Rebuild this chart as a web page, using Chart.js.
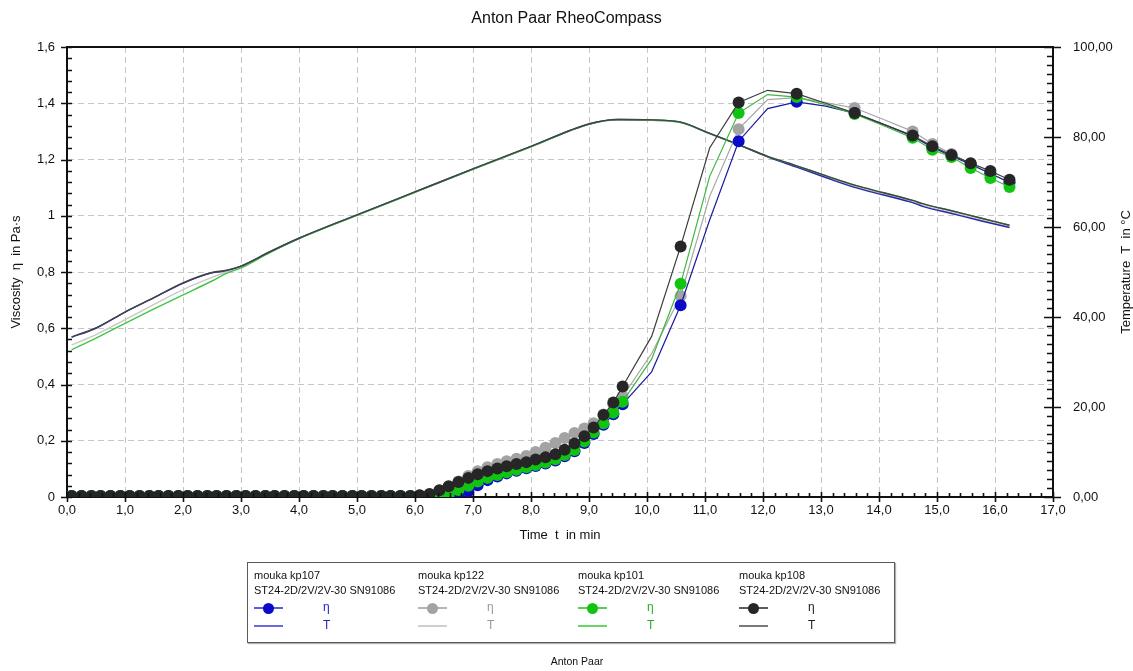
<!DOCTYPE html>
<html><head><meta charset="utf-8">
<script src="https://cdn.jsdelivr.net/npm/chart.js@4.4.1/dist/chart.umd.min.js"></script>
<style>
html,body{margin:0;padding:0;background:#fff;}
#wrap{position:relative;width:1133px;height:671px;overflow:hidden;font-family:"Liberation Sans",Arial,sans-serif;}
#chart{position:absolute;left:0;top:0;}
#legend{position:absolute;left:247px;top:562px;width:646px;height:79px;border:1px solid #5a5a5a;box-shadow:1px 1px 1px #b0b0b0;background:#fff;}
.col{position:absolute;top:0;width:165px;height:79px;font-size:11px;color:#111;}
.txt{position:absolute;left:0;white-space:nowrap;line-height:14px;}
.sym{position:absolute;height:2px;}
.dot{position:absolute;width:11px;height:11px;border-radius:50%;}
.lab{position:absolute;line-height:14px;font-size:12px;}
#footer{position:absolute;left:477px;width:200px;top:655px;text-align:center;font-family:"Liberation Sans Narrow","Liberation Sans",Arial,sans-serif;font-size:10.5px;color:#111;}
</style>
</head>
<body>
<div id="wrap">
<canvas id="chart" width="1133" height="671"></canvas>
<div id="legend"></div>
<div id="footer">Anton Paar</div>
</div>
<script>
// ---------- DATA ----------
const chartTitle = 'Anton Paar RheoCompass';
const xTitle = 'Time  t  in min';
const yTitle = 'Viscosity  η  in Pa·s';
const y2Title = 'Temperature  T  in °C';

const xTicks = [0,1,2,3,4,5,6,7,8,9,10,11,12,13,14,15,16,17];
const yTicks = [0,0.2,0.4,0.6,0.8,1.0,1.2,1.4,1.6];
const y2Ticks = [0,20,40,60,80,100];

const seriesNames = ['mouka kp107','mouka kp122','mouka kp101','mouka kp108'];
const seriesInfo = 'ST24-2D/2V/2V-30 SN91086';

// time points of the viscosity measurement (min)
const etaTimes = [0.08,0.25,0.42,0.58,0.75,0.92,1.08,1.25,1.42,1.58,1.75,1.92,2.08,2.25,2.42,2.58,2.75,2.92,3.08,3.25,3.42,3.58,3.75,3.92,4.08,4.25,4.42,4.58,4.75,4.92,5.08,5.25,5.42,5.58,5.75,5.92,6.08,6.25,6.42,6.58,6.75,6.92,7.08,7.25,7.42,7.58,7.75,7.92,8.08,8.25,8.42,8.58,8.75,8.92,9.08,9.25,9.42,9.58,10.08,10.58,11.08,11.58,12.08,12.58,13.08,13.58,14.08,14.58,14.92,15.25,15.58,15.92,16.25];
// measurement points drawn without a symbol
const lineOnlyTimes = [10.08,11.08,12.08,13.08,14.08];

// viscosity (Pa·s)
const etaKp107 = [0.004,0.004,0.004,0.004,0.004,0.004,0.004,0.004,0.004,0.004,0.004,0.004,0.004,0.004,0.004,0.004,0.004,0.004,0.004,0.004,0.004,0.004,0.004,0.004,0.004,0.004,0.004,0.004,0.004,0.004,0.004,0.004,0.004,0.004,0.004,
  0.004,0.004,0.004,0.004,0.004,0.006,0.020,0.042,0.060,0.073,0.084,0.093,0.102,0.110,0.119,0.130,0.145,0.163,0.192,0.224,0.257,0.294,0.330,
  0.445,0.682,0.985,1.265,1.381,1.405,1.390,1.365,1.325,1.283,1.243,1.213,1.182,1.150,1.118];
const etaKp122 = [0.004,0.004,0.004,0.004,0.004,0.004,0.004,0.004,0.004,0.004,0.004,0.004,0.004,0.004,0.004,0.004,0.004,0.004,0.004,0.004,0.004,0.004,0.004,0.004,0.004,0.004,0.004,0.004,0.004,0.004,0.004,0.004,0.004,0.004,0.004,
  0.004,0.005,0.009,0.020,0.036,0.055,0.075,0.092,0.106,0.117,0.127,0.136,0.146,0.160,0.175,0.192,0.210,0.228,0.244,0.262,0.293,0.330,0.357,
  0.510,0.715,1.069,1.308,1.413,1.420,1.402,1.383,1.342,1.300,1.255,1.220,1.185,1.150,1.118];
const etaKp101 = [0.004,0.004,0.004,0.004,0.004,0.004,0.004,0.004,0.004,0.004,0.004,0.004,0.004,0.004,0.004,0.004,0.004,0.004,0.004,0.004,0.004,0.004,0.004,0.004,0.004,0.004,0.004,0.004,0.004,0.004,0.004,0.004,0.004,0.004,0.004,
  0.004,0.004,0.004,0.005,0.009,0.025,0.040,0.055,0.068,0.078,0.088,0.097,0.106,0.114,0.123,0.134,0.149,0.167,0.197,0.229,0.262,0.300,0.339,
  0.490,0.758,1.140,1.365,1.431,1.422,1.395,1.362,1.320,1.277,1.235,1.209,1.170,1.134,1.102];
const etaKp108 = [0.004,0.004,0.004,0.004,0.004,0.004,0.004,0.004,0.004,0.004,0.004,0.004,0.004,0.004,0.004,0.004,0.004,0.004,0.004,0.004,0.004,0.004,0.004,0.004,0.004,0.004,0.004,0.004,0.004,0.004,0.004,0.004,0.004,0.004,0.004,
  0.004,0.006,0.011,0.024,0.038,0.053,0.068,0.081,0.092,0.101,0.109,0.117,0.124,0.133,0.141,0.152,0.168,0.190,0.216,0.247,0.292,0.336,0.393,
  0.571,0.891,1.241,1.403,1.446,1.434,1.400,1.365,1.325,1.285,1.247,1.216,1.187,1.159,1.128];

// temperature (°C)
const tempTimes = [0.08,0.5,1.0,1.5,2.0,2.5,2.75,3.0,3.5,4.0,5.0,6.0,7.0,8.0,9.0,9.5,10.08,10.58,11.08,11.58,12.08,12.58,13.08,13.58,14.08,14.58,14.75,15.25,15.75,16.25];
const tempKp107 = [35.5,37.5,41.1,44.3,47.5,49.8,50.3,51.3,54.5,57.5,62.7,67.8,72.9,77.9,82.9,83.9,83.8,83.3,80.8,78.3,75.6,73.3,71.0,68.8,67.1,65.4,64.6,63.0,61.4,59.9];
const tempKp122 = [33.8,36.1,39.4,42.8,46.1,48.8,50.0,51.1,54.4,57.4,62.6,67.7,72.8,77.8,82.8,83.8,83.7,83.2,80.7,78.2,75.6,73.4,71.2,69.0,67.3,65.6,64.8,63.2,61.6,60.1];
const tempKp101 = [32.7,35.3,38.6,41.8,44.9,48.0,49.7,50.9,54.3,57.4,62.6,67.7,72.8,77.8,82.8,83.8,83.7,83.2,80.8,78.3,75.7,73.6,71.4,69.3,67.6,65.9,65.2,63.6,62.0,60.4];
const tempKp108 = [35.6,37.6,41.1,44.3,47.6,49.9,50.4,51.3,54.5,57.5,62.7,67.8,72.9,77.9,82.9,83.9,83.8,83.3,80.8,78.3,75.7,73.6,71.4,69.3,67.6,65.9,65.2,63.6,62.0,60.4];

// ---------- STYLE ----------
const FONT = '"Liberation Sans", Arial, sans-serif';
const styles = [
  {marker:'#0a0ac8', etaLine:'#1a1aa0', tLine:'#2a2aae', legLine:'#5c5cd6', legT:'#6a6ae0', text:'#2323c0', order:3},
  {marker:'#a3a3a3', etaLine:'#a6a6a6', tLine:'#c8c8c8', legLine:'#b4b4b4', legT:'#cfcfcf', text:'#9a9a9a', order:4},
  {marker:'#12c412', etaLine:'#3cb83c', tLine:'#44c444', legLine:'#55d055', legT:'#66d666', text:'#22b022', order:2},
  {marker:'#262626', etaLine:'#3c3c3c', tLine:'#444444', legLine:'#5c5c5c', legT:'#7a7a7a', text:'#202020', order:1}
];
const etaSeries = [etaKp107, etaKp122, etaKp101, etaKp108];
const tempSeries = [tempKp107, tempKp122, tempKp101, tempKp108];

const toPts = (xs, ys) => xs.map((x,i)=>({x:x, y:ys[i]}));
const datasets = [];
etaSeries.forEach((vals,i)=>{
  const s = styles[i];
  datasets.push({
    label: seriesNames[i] + ' η',
    data: toPts(etaTimes, vals),
    yAxisID:'y',
    borderColor: s.etaLine, borderWidth: 1.2,
    backgroundColor: s.marker,
    pointBackgroundColor: s.marker, pointBorderColor: s.marker, pointBorderWidth: 0,
    pointRadius: ctx => (ctx.dataIndex !== undefined && lineOnlyTimes.includes(etaTimes[ctx.dataIndex])) ? 0 : 6,
    tension: 0, order: s.order
  });
});
tempSeries.forEach((vals,i)=>{
  const s = styles[i];
  datasets.push({
    label: seriesNames[i] + ' T',
    data: toPts(tempTimes, vals),
    yAxisID:'y2',
    borderColor: s.tLine, borderWidth: 1.4,
    pointRadius: 0, cubicInterpolationMode:'monotone', order: 5 + s.order
  });
});

const fmtX = v => v.toFixed(1).replace('.', ',');
const fmtY = v => String(Number(v.toFixed(1))).replace('.', ',');
const fmtY2 = v => v.toFixed(2).replace('.', ',');

const framePlugin = {
  id:'frame',
  afterDatasetsDraw(chart){
    const {ctx, chartArea:ca, scales} = chart;
    const xs = scales.x, ys = scales.y, y2 = scales.y2;
    ctx.save();
    ctx.strokeStyle = '#111';
    ctx.lineWidth = 2;
    ctx.beginPath(); ctx.moveTo(ca.left-1, ca.top); ctx.lineTo(ca.right+1, ca.top); ctx.stroke();
    ctx.lineWidth = 1.6;
    ctx.beginPath();
    // bottom axis ticks (minor every 0.2 min)
    for (let k = 0; k <= (xs.max - xs.min) * 5 + 1e-6; k++) {
      const v = xs.min + k * 0.2;
      const px = Math.round(xs.getPixelForValue(v)) + 0.5;
      const major = k % 5 === 0;
      ctx.moveTo(px, ca.bottom + (major ? 5 : 0));
      ctx.lineTo(px, ca.bottom - (major ? 5 : 4));
    }
    // left axis ticks (minor every 0.04)
    for (let k = 0; k <= (ys.max - ys.min) * 25 + 1e-6; k++) {
      const v = ys.min + k * 0.04;
      const py = Math.round(ys.getPixelForValue(v)) + 0.5;
      const major = k % 5 === 0;
      ctx.moveTo(ca.left - (major ? 6 : 0), py);
      ctx.lineTo(ca.left + 5, py);
    }
    // right axis ticks (minor every 2 °C)
    for (let k = 0; k <= (y2.max - y2.min) / 2 + 1e-6; k++) {
      const v = y2.min + k * 2;
      const py = Math.round(y2.getPixelForValue(v)) + 0.5;
      const major = k % 10 === 0;
      ctx.moveTo(ca.right + (major ? 8 : 0), py);
      ctx.lineTo(ca.right - (major ? 9 : 6), py);
    }
    ctx.stroke();
    // right axis title, reading bottom to top
    ctx.fillStyle = '#111';
    ctx.font = '13px ' + FONT;
    ctx.textAlign = 'center';
    ctx.textBaseline = 'middle';
    ctx.translate(1126, (ca.top + ca.bottom) / 2);
    ctx.rotate(-Math.PI / 2);
    ctx.fillText(y2Title, 0, 0);
    ctx.restore();
  }
};

const gridColor = '#c6c6c6';
new Chart(document.getElementById('chart'), {
  type:'line',
  data:{datasets},
  plugins:[framePlugin],
  options:{
    responsive:false, animation:false, devicePixelRatio:1,
    layout:{padding:{top:0,bottom:124,left:0,right:0}},
    plugins:{
      legend:{display:false}, tooltip:{enabled:false},
      title:{display:true, text:chartTitle, color:'#111', font:{size:16, family:FONT, weight:'normal'}, padding:{top:9,bottom:18.8}}
    },
    scales:{
      x:{
        type:'linear', min:0, max:17, position:'bottom',
        afterBuildTicks: s => { s.ticks = xTicks.map(v=>({value:v})); },
        afterFit: s => { s.height = 50; },
        ticks:{callback: v => fmtX(v), color:'#111', font:{size:13, family:FONT}, padding:6, autoSkip:false, maxRotation:0},
        grid:{color:gridColor, lineWidth:1, drawTicks:false},
        border:{display:true, color:'#111', width:2, dash:[6,4]},
        title:{display:true, text:xTitle, color:'#111', font:{size:13, family:FONT}, padding:{top:0,bottom:4}}
      },
      y:{
        type:'linear', min:0, max:1.6, position:'left',
        afterBuildTicks: s => { s.ticks = yTicks.map(v=>({value:v})); },
        afterFit: s => { s.width = 67; },
        ticks:{callback: v => fmtY(v), color:'#111', font:{size:13, family:FONT}, padding:12},
        grid:{color:gridColor, lineWidth:1, drawTicks:false},
        border:{display:true, color:'#111', width:2, dash:[6,4]},
        title:{display:true, text:yTitle, color:'#111', font:{size:13, family:FONT}, padding:{top:9,bottom:0}}
      },
      y2:{
        type:'linear', min:0, max:100, position:'right',
        afterBuildTicks: s => { s.ticks = y2Ticks.map(v=>({value:v})); },
        afterFit: s => { s.width = 80; },
        ticks:{callback: v => fmtY2(v), color:'#111', font:{size:13, family:FONT}, padding:20},
        grid:{display:false, drawTicks:false},
        border:{display:true, color:'#111', width:2}
      }
    }
  }
});

// ---------- HTML legend ----------
const legend = document.getElementById('legend');
const colLeft = [6, 170, 330, 491];
seriesNames.forEach((name,i)=>{
  const s = styles[i];
  const col = document.createElement('div');
  col.className = 'col';
  col.style.left = colLeft[i] + 'px';
  col.innerHTML =
    `<div class="txt" style="top:5px">${name}</div>` +
    `<div class="txt" style="top:20px">${seriesInfo}</div>` +
    `<div class="sym" style="left:0;width:29px;top:44px;background:${s.legLine}"></div>` +
    `<div class="dot" style="left:9px;top:39.5px;background:${s.marker}"></div>` +
    `<div class="lab" style="left:69px;top:37px;color:${s.text}">η</div>` +
    `<div class="sym" style="left:0;width:29px;top:62px;background:${s.legT}"></div>` +
    `<div class="lab" style="left:69px;top:55px;color:${s.text}">T</div>`;
  legend.appendChild(col);
});
</script>
</body></html>
